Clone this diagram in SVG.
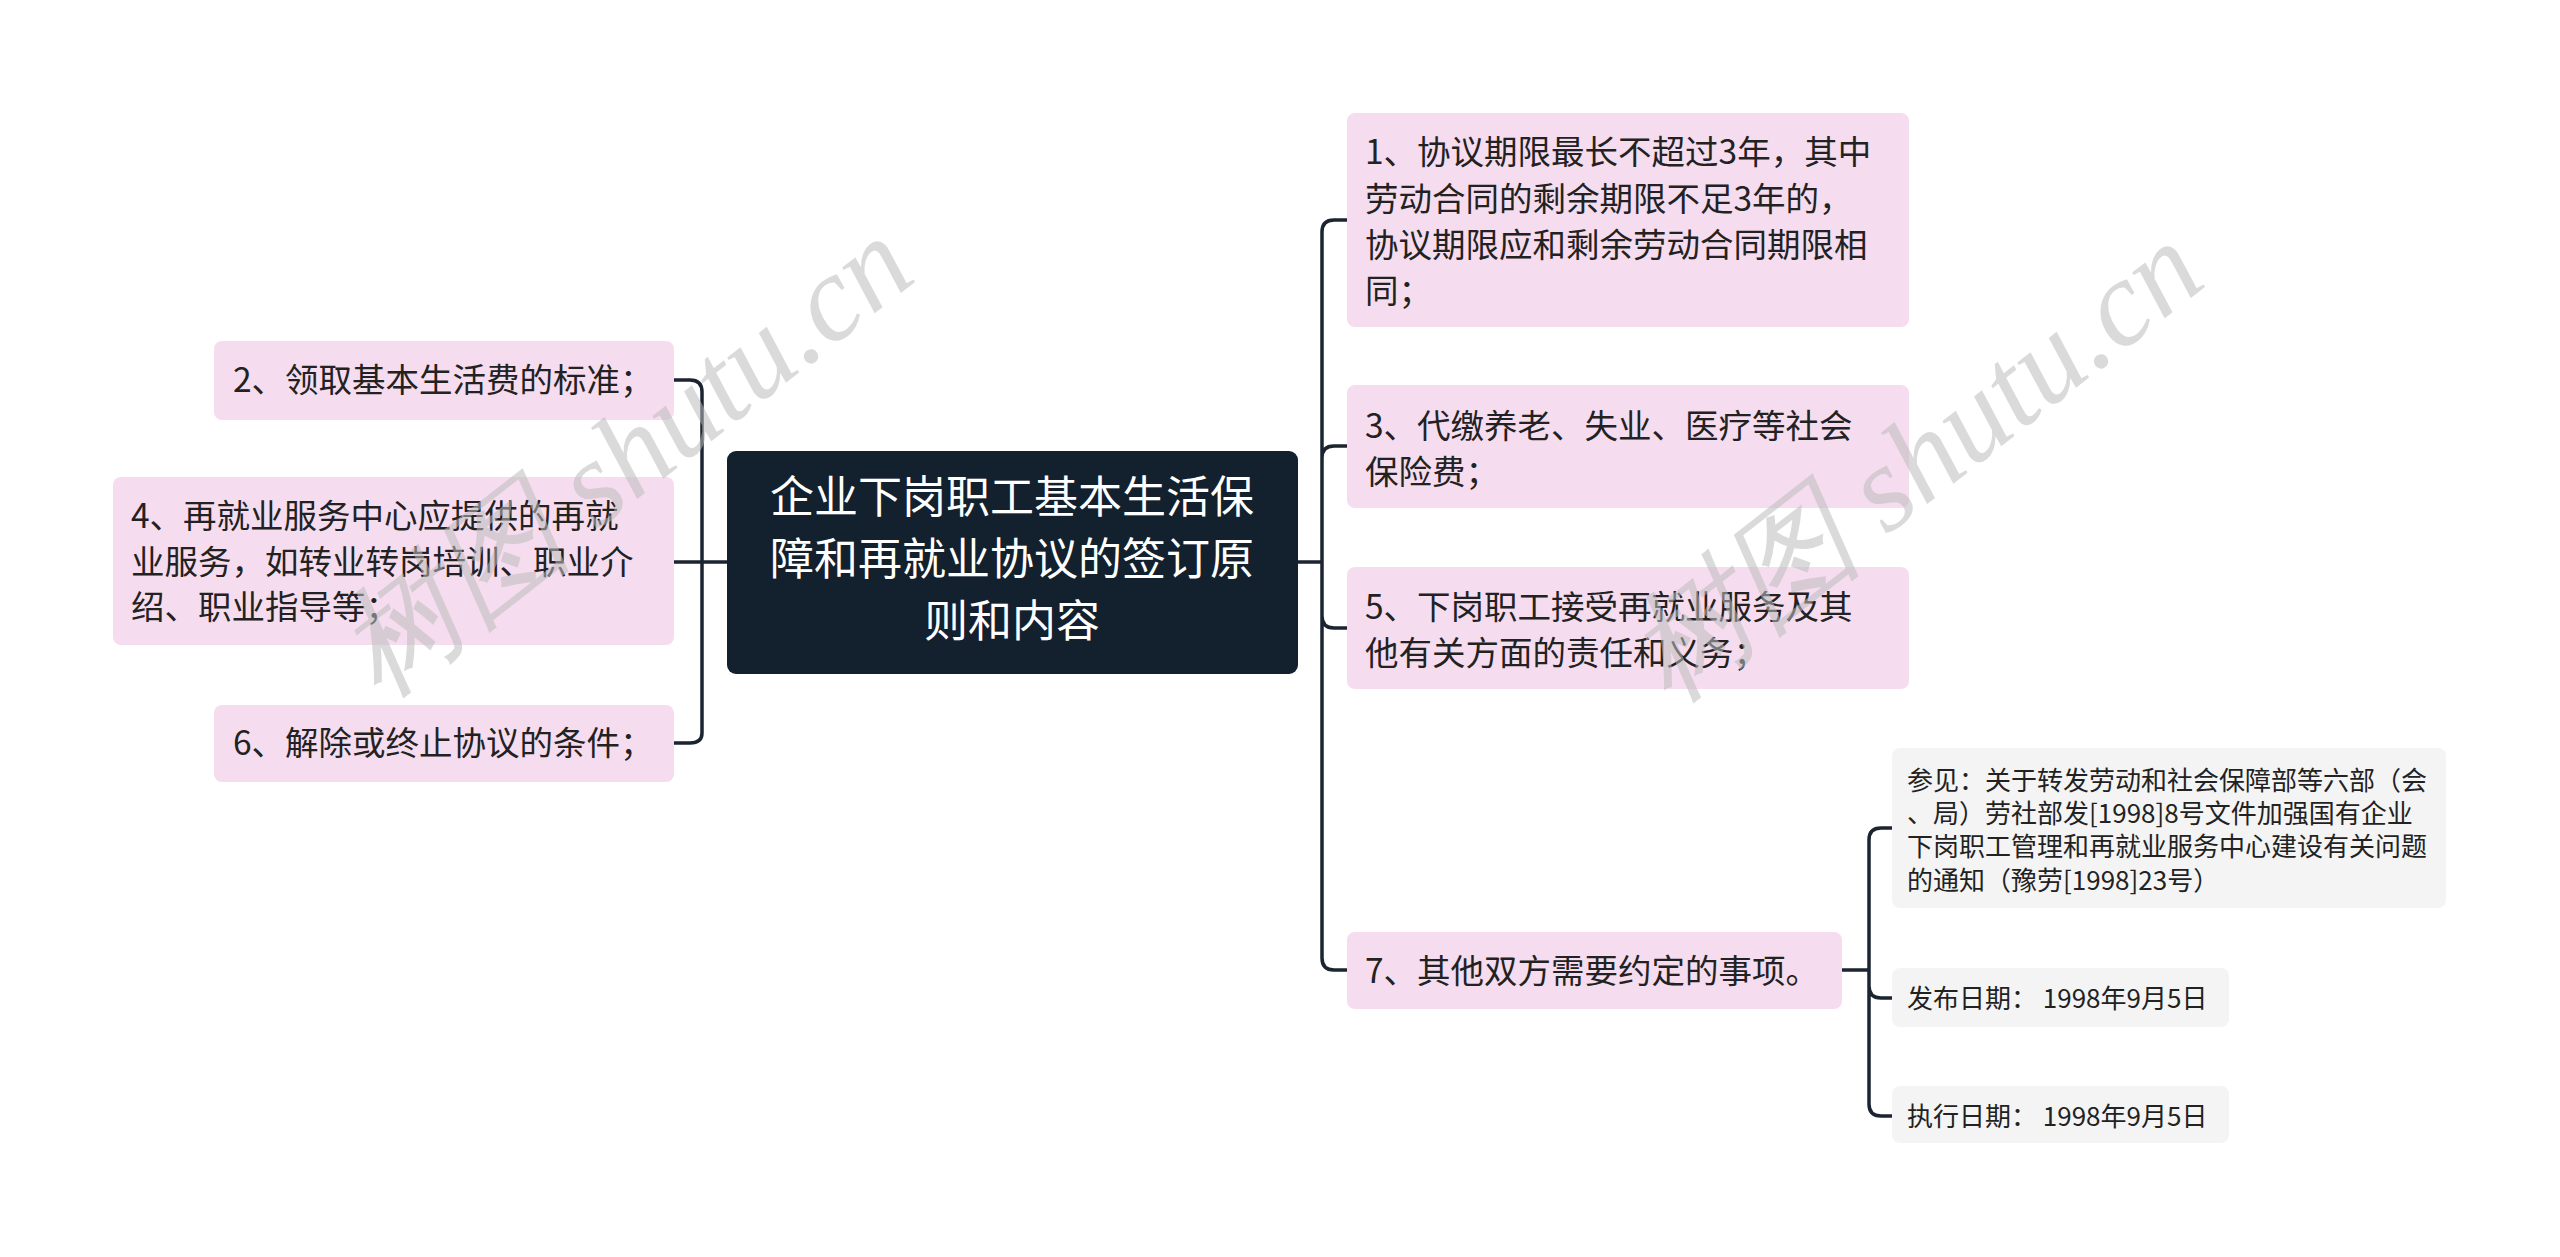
<svg xmlns="http://www.w3.org/2000/svg" width="2560" height="1257" viewBox="0 0 2560 1257">
<style>
text{font-family:"Noto Sans CJK SC","Noto Sans",sans-serif;fill:#222}
.n{font-size:33.5px}
.s{font-size:26px}
.c{font-size:44px;fill:#fff}
.pink{fill:#f6dcef}
.gray{fill:#f4f4f4}
.line{fill:none;stroke:#1b2430;stroke-width:3.5}
.wm{font-family:"Liberation Serif",serif;font-style:italic;font-size:122px;fill:#bbb;fill-opacity:0.55}
</style>
<rect width="2560" height="1257" fill="#fff"/>
<g id="connectors">
<path class="line" d="M727 562 H702 M702 392 V733 M702 392 Q702 380 690 380 H674 M702 562 H674 M702 733 Q702 743 690 743 H674"/>
<path class="line" d="M1298 562 H1322 M1322 232 V958 M1322 232 Q1322 220 1334 220 H1347 M1322 458 Q1322 446 1334 446 H1347 M1322 562 V640 M1322 616 Q1322 628 1334 628 H1347 M1322 958 Q1322 970 1334 970 H1347"/>
<path class="line" d="M1842 970 H1869 M1869 840 V1104 M1869 840 Q1869 828 1881 828 H1892 M1869 986 Q1869 998 1881 998 H1892 M1869 1104 Q1869 1116 1881 1116 H1892"/>
</g>
<g id="center">
<rect x="727" y="451" width="571" height="223" rx="9" fill="#13202e"/>
<text class="c" text-anchor="middle"><tspan x="1012" y="513">企业下岗职工基本生活保</tspan><tspan x="1012" y="575">障和再就业协议的签订原</tspan><tspan x="1012" y="637">则和内容</tspan></text>
</g>
<g id="n2"><rect class="pink" x="214" y="341" width="460" height="79" rx="8"/><text class="n" x="233" y="392">2、领取基本生活费的标准；</text></g>
<g id="n4"><rect class="pink" x="113" y="477" width="561" height="168" rx="8"/><text class="n"><tspan x="131" y="528">4、再就业服务中心应提供的再就</tspan><tspan x="131" y="574">业服务，如转业转岗培训、职业介</tspan><tspan x="131" y="619">绍、职业指导等；</tspan></text></g>
<g id="n6"><rect class="pink" x="214" y="705" width="460" height="77" rx="8"/><text class="n" x="233" y="755">6、解除或终止协议的条件；</text></g>
<g id="n1"><rect class="pink" x="1347" y="113" width="562" height="214" rx="8"/><text class="n"><tspan x="1365" y="164">1、协议期限最长不超过3年，其中</tspan><tspan x="1365" y="211">劳动合同的剩余期限不足3年的，</tspan><tspan x="1365" y="257">协议期限应和剩余劳动合同期限相</tspan><tspan x="1365" y="303">同；</tspan></text></g>
<g id="n3"><rect class="pink" x="1347" y="385" width="562" height="123" rx="8"/><text class="n"><tspan x="1365" y="438">3、代缴养老、失业、医疗等社会</tspan><tspan x="1365" y="484">保险费；</tspan></text></g>
<g id="n5"><rect class="pink" x="1347" y="567" width="562" height="122" rx="8"/><text class="n"><tspan x="1365" y="619">5、下岗职工接受再就业服务及其</tspan><tspan x="1365" y="665">他有关方面的责任和义务；</tspan></text></g>
<g id="n7"><rect class="pink" x="1347" y="932" width="495" height="77" rx="8"/><text class="n" x="1365" y="983">7、其他双方需要约定的事项。</text></g>
<g id="ref"><rect class="gray" x="1892" y="748" width="554" height="160" rx="8"/><text class="s"><tspan x="1907" y="790">参见：关于转发劳动和社会保障部等六部（会</tspan><tspan x="1907" y="823">、局）劳社部发[1998]8号文件加强国有企业</tspan><tspan x="1907" y="856">下岗职工管理和再就业服务中心建设有关问题</tspan><tspan x="1907" y="890">的通知（豫劳[1998]23号）</tspan></text></g>
<g id="d1"><rect class="gray" x="1892" y="968" width="337" height="59" rx="8"/><text class="s" x="1907" y="1008">发布日期：  1998年9月5日</text></g>
<g id="d2"><rect class="gray" x="1892" y="1086" width="337" height="57" rx="8"/><text class="s" x="1907" y="1126">执行日期：  1998年9月5日</text></g>
<g id="watermark">
<text class="wm" transform="translate(380 700) rotate(-38)">树图 shutu.cn</text>
<text class="wm" transform="translate(1670 705) rotate(-38)">树图 shutu.cn</text>
</g>
</svg>
